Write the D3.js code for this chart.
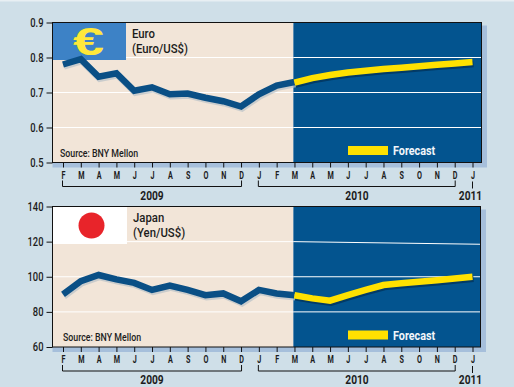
<!DOCTYPE html>
<html><head><meta charset="utf-8">
<script src="https://cdnjs.cloudflare.com/ajax/libs/d3/7.8.5/d3.min.js"></script>
<style>
html,body{margin:0;padding:0;background:#cfdfe8;}
svg{display:block;}
text{font-family:"Roboto",sans-serif;fill:#1c1c1c;}
</style></head><body>
<svg id="c" width="514" height="387"></svg>
<script>
const monthLabels = ["F","M","A","M","J","J","A","S","O","N","D","J","F","M","A","M","J","J","A","S","O","N","D","J"];
const euroActual = [0.78,0.795,0.745,0.755,0.705,0.715,0.695,0.697,0.685,0.675,0.66,0.695,0.72,0.73];
const euroForecast = [0.728,0.741,0.75,0.757,0.762,0.767,0.771,0.775,0.779,0.783,0.787];
const yenActual = [90,97.5,101,98.5,96.5,92.5,95,92.5,89.5,90.5,86,92.5,90.5,89.5];
const yenForecast = [89.5,87.7,86.4,89.5,92.5,95.3,96.3,97.2,98,99,100];
const euroTicks = [0.5,0.6,0.7,0.8,0.9];
const yenTicks = [60,80,100,120,140];
const yearGroups = [{label:"2009",from:0,to:10,lx:152},{label:"2010",from:11,to:22,lx:357},{label:"2011",from:23,to:23,lx:470.5}];

const svg = d3.select("#c");
svg.append("rect").attr("width",514).attr("height",1.5).attr("fill","#e8eff3");

function narrow(sel,f){
  sel.each(function(){
    const w=this.getComputedTextLength();
    d3.select(this).attr("textLength",w*f).attr("lengthAdjust","spacingAndGlyphs");
  });
  return sel;
}

function panel(o){
  const x = d3.scalePoint().domain(d3.range(monthLabels.length)).range([63,472.5]);
  const y = d3.scaleLinear().domain(o.domain).range([o.bottom,o.top]);
  const L=52.5, R=o.right, fx=x(13)-1;
  const g = svg.append("g");
  g.append("rect").attr("x",L).attr("y",o.top+3).attr("width",R-L+5.5).attr("height",o.bottom-o.top+2).attr("fill","#a6bfdb");
  g.append("rect").attr("x",L).attr("y",o.top).attr("width",fx-L).attr("height",o.bottom-o.top).attr("fill","#f2e5d8");
  g.append("rect").attr("x",fx).attr("y",o.top).attr("width",R-fx).attr("height",o.bottom-o.top).attr("fill","#03548f");
  o.ticks.slice(1,-1).forEach(t=>{
    const y2 = o.tilt && t===o.tilt.value ? y(o.tilt.end) : y(t);
    g.append("line").attr("x1",L).attr("x2",fx).attr("y1",y(t)).attr("y2",y(t)).attr("stroke","#fff").attr("stroke-width",1);
    g.append("line").attr("x1",fx).attr("x2",R).attr("y1",y(t)).attr("y2",y2).attr("stroke","#fff").attr("stroke-width",1);
  });
  o.flag(g);
  const line = d3.line().x(d=>x(d.i)).y(d=>y(d.v));
  const a = o.actual.map((v,i)=>({i,v}));
  const f = o.forecast.map((v,i)=>({i:i+13,v}));
  const def = g.append("g").attr("fill","none").attr("stroke-linejoin","miter");
  def.append("path").attr("d",line(a)).attr("transform","translate(1,2)").attr("stroke","#b9c2c8").attr("stroke-width",6.5).attr("opacity",.7);
  def.append("path").attr("d",line(a)).attr("stroke","#0a4f85").attr("stroke-width",6.5);
  def.append("path").attr("d",line(f)).attr("transform","translate(1,2)").attr("stroke","#023a66").attr("stroke-width",6.5);
  def.append("path").attr("d",line(f)).attr("stroke","#ffe100").attr("stroke-width",6.5);
  g.append("rect").attr("x",L).attr("y",o.top).attr("width",R-L).attr("height",o.bottom-o.top).attr("fill","none").attr("stroke","#111").attr("stroke-width",1);

  const ya = g.append("g").attr("transform",`translate(${L},0)`).call(d3.axisLeft(y).tickValues(o.ticks).tickSize(6).tickFormat(o.fmt));
  ya.select(".domain").remove();
  ya.selectAll("line").attr("stroke","#111");
  narrow(ya.selectAll("text").attr("x",-9).attr("font-size",12).attr("font-weight",500).attr("fill","#1c1c1c"),.78);

  const xa = g.append("g").attr("transform",`translate(0,${o.bottom})`).call(d3.axisBottom(x).tickSize(5).tickFormat(i=>monthLabels[i]));
  xa.select(".domain").remove();
  xa.selectAll("line").attr("stroke","#111");
  narrow(xa.selectAll("text").attr("y",9).attr("font-size",10).attr("font-weight","bold").attr("fill","#1c1c1c"),.72);

  const by = o.bottom+24;
  yearGroups.forEach(yr=>{
    const p = yr.from===yr.to
      ? `M${x(yr.from)},${by-5}V${by+2}`
      : `M${x(yr.from)-.5},${by-6}V${by}H${x(yr.to)+.5}V${by-6}`;
    g.append("path").attr("d",p).attr("fill","none").attr("stroke","#111");
    narrow(g.append("text").attr("x",yr.lx).attr("y",by+13).attr("text-anchor","middle").attr("font-size",12).attr("font-weight","bold").text(yr.label),.85);
  });

  narrow(g.append("text").attr("x",o.lx).attr("y",o.top+15).attr("font-size",13.5).attr("font-weight",500).text(o.t1),.84);
  narrow(g.append("text").attr("x",o.lx).attr("y",o.top+30).attr("font-size",13.5).attr("font-weight",500).text(o.t2),.84);
  narrow(g.append("text").attr("x",o.sx).attr("y",o.bottom-6).attr("font-size",11).attr("font-weight",500).text("Source: BNY Mellon"),.8);
  g.append("rect").attr("x",348).attr("y",o.bottom-16.5).attr("width",40).attr("height",9).attr("fill","#ffe100");
  narrow(g.append("text").attr("x",393).attr("y",o.bottom-7.5).attr("font-size",13.5).attr("font-weight","bold").attr("style","fill:#f2f6fa").text("Forecast"),.8);
}

panel({top:22.5,bottom:162.5,right:481.5,domain:[0.5,0.9],ticks:euroTicks,fmt:d3.format(".1f"),
  actual:euroActual,forecast:euroForecast,t1:"Euro",t2:"(Euro/US$)",lx:132,sx:60,
  flag:g=>{
    g.append("rect").attr("x",53).attr("y",23).attr("width",73).attr("height",37).attr("fill","#3d82c6");
    g.append("text").attr("x",88.5).attr("y",55).attr("text-anchor","middle").attr("font-size",39).attr("font-weight","bold")
      .attr("textLength",31).attr("lengthAdjust","spacingAndGlyphs")
      .attr("style","fill:#ffe83a;font-family:'Liberation Sans'").text("€");
  }});
panel({top:206.5,bottom:347,right:480.5,domain:[60,140],ticks:yenTicks,fmt:d3.format("d"),
  actual:yenActual,forecast:yenForecast,tilt:{value:120,end:118.5},t1:"Japan",t2:"(Yen/US$)",lx:133,sx:63,
  flag:g=>{
    g.append("rect").attr("x",53).attr("y",207).attr("width",74).attr("height",37).attr("fill","#fff");
    g.append("circle").attr("cx",91.5).attr("cy",225.5).attr("r",13).attr("fill","#e8242a");
  }});
</script>
</body></html>
